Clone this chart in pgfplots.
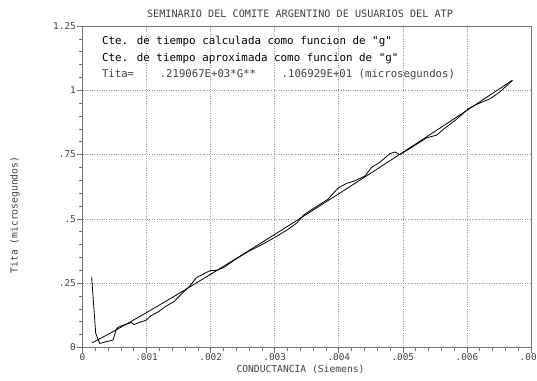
\documentclass[border=0pt]{standalone}
\usepackage{pgfplots}
\pgfplotsset{compat=1.18}
\usepackage{fontspec}
\newfontfamily\mono{DejaVu Sans Mono}

\definecolor{frame}{gray}{0.45}
\definecolor{txt}{gray}{0.25}
\definecolor{gridc}{gray}{0.6}

% Time constant calculated as a function of g
\pgfplotstableread{
G        tita
0.000143 0.274
0.000206 0.055
0.000268 0.016
0.000476 0.029
0.000528 0.071
0.000559 0.079
0.000647 0.088
0.000767 0.097
0.000803 0.089
0.000881 0.097
0.000985 0.105
0.001064 0.123
0.00119  0.140
0.0013   0.160
0.00143  0.179
0.00156  0.212
0.00166  0.235
0.00178  0.272
0.00199  0.299
0.00209  0.300
0.0022   0.310
0.0024   0.345
0.0026   0.375
0.0028   0.400
0.0030   0.428
0.0032   0.458
0.00335  0.485
0.00345  0.515
0.0036   0.540
0.00383  0.576
0.00399  0.620
0.00412  0.638
0.00425  0.648
0.00441  0.667
0.00451  0.700
0.00464  0.720
0.00480  0.754
0.00488  0.760
0.00495  0.750
0.0051   0.772
0.00537  0.815
0.00553  0.826
0.00563  0.848
0.00584  0.888
0.00602  0.928
0.00615  0.945
0.00636  0.967
0.00651  0.993
0.00671  1.038
}\calc

% Fitted curve  Tita = 219.067 * G^1.06929
\pgfplotstableread{
G        tita
0.00015  0.0179
0.0005   0.0647
0.001    0.1357
0.0015   0.2092
0.002    0.2848
0.0025   0.3617
0.003    0.4395
0.0035   0.5184
0.004    0.5977
0.0045   0.6780
0.005    0.7588
0.0055   0.8402
0.006    0.9221
0.00671  1.0392
}\approxfit

\begin{document}
\begin{tikzpicture}
\begin{axis}[
  at={(0,0)}, anchor=south west,
  scale only axis, width=448.5bp, height=321.5bp,
  xmin=0, xmax=0.007, ymin=0, ymax=1.25,
  xtick={0,0.001,0.002,0.003,0.004,0.005,0.006,0.007},
  xticklabels={0,.001,.002,.003,.004,.005,.006,.007},
  ytick={0,0.25,0.5,0.75,1,1.25},
  yticklabels={0,.25,.5,.75,1,1.25},
  scaled x ticks=false,
  minor x tick num=4, minor y tick num=4,
  tick align=outside, xtick pos=bottom, ytick pos=left,
  major tick length=5bp, minor tick length=3bp,
  tick style={frame, line width=0.6bp},
  axis line style={frame, line width=0.9bp},
  grid=major,
  major grid style={gridc, dotted, line width=0.6bp},
  tick label style={font=\mono\fontsize{9.4}{11}\selectfont, text=txt},
  xticklabel style={inner sep=1bp},
  yticklabel style={inner sep=1.5bp},
]
\addplot[black, line width=0.8bp, line join=round] table[x=G, y=tita] {\calc};
\addplot[black, line width=0.8bp, line join=round] table[x=G, y=tita] {\approxfit};
\end{axis}

\node[text=txt, font=\mono\fontsize{10.2}{12}\selectfont] at (217.5bp,333.5bp)
  {SEMINARIO DEL COMITE ARGENTINO DE USUARIOS DEL ATP};
\node[anchor=west, text=black, font=\mono\fontsize{10.9}{12}\selectfont] at (16bp,305.5bp)
  {Cte. de tiempo calculada como funcion de "g"};
\node[anchor=west, text=black, font=\mono\fontsize{10.9}{12}\selectfont] at (16bp,288.5bp)
  {Cte. de tiempo aproximada como funcion de "g"};
\node[anchor=west, text=txt, font=\mono\fontsize{10.7}{12}\selectfont] at (16bp,272.5bp)
  {Tita=\ \ \ \ .219067E+03*G**\ \ \ \ .106929E+01 (microsegundos)};
\node[text=txt, font=\mono\fontsize{9.7}{12}\selectfont] at (218bp,-21.5bp)
  {CONDUCTANCIA (Siemens)};
\node[text=txt, rotate=90, font=\mono\fontsize{9.7}{12}\selectfont] at (-67.5bp,132.5bp)
  {Tita (microsegundos)};

\pgfresetboundingbox
\path (-82.5bp,-33.5bp) rectangle (454.5bp,347.5bp);
\end{tikzpicture}
\end{document}
